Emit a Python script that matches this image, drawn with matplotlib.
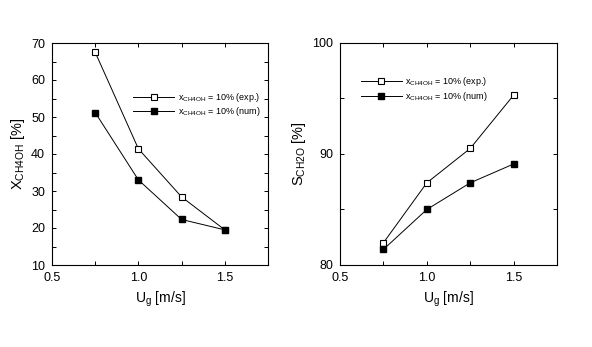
import matplotlib
matplotlib.use('Agg')
import matplotlib.pyplot as plt
from matplotlib.ticker import MultipleLocator

plt.rcParams['font.family'] = ['Liberation Sans', 'DejaVu Sans']
plt.rcParams['mathtext.default'] = 'regular'

# superficial gas velocity
u_g = [0.75, 1.0, 1.25, 1.5]

# methanol conversion
conv_exp = [67.5, 41.4, 28.4, 19.5]
conv_num = [51.2, 33.0, 22.3, 19.5]

# formaldehyde selectivity
sel_exp = [82.0, 87.4, 90.5, 95.3]
sel_num = [81.4, 85.0, 87.4, 89.1]

lab_exp = '$x_{CH4OH}$ = 10% (exp.)'
lab_num = '$x_{CH4OH}$ = 10% (num)'

fig = plt.figure(figsize=(5.92, 3.47), dpi=100)
ax1 = fig.add_axes([52/592, 1 - 265/347, 216/592, 222/347])
ax2 = fig.add_axes([340/592, 1 - 265/347, 217/592, 222/347])


def style(ax):
    ax.tick_params(which='both', direction='in', top=True, right=True, labelsize=9,
                   width=0.7, length=3.2)
    ax.tick_params(axis='x', pad=5)
    ax.tick_params(axis='y', pad=5)
    for s in ax.spines.values():
        s.set_linewidth(0.8)
    ax.set_xlim(0.5, 1.75)
    ax.xaxis.set_major_locator(MultipleLocator(0.5))
    ax.xaxis.set_major_formatter(plt.FormatStrFormatter('%.1f'))
    ax.xaxis.set_minor_locator(MultipleLocator(0.25))
    ax.set_xlabel('$U_g$ [m/s]', fontsize=10, labelpad=4)


# conversion
ax1.plot(u_g, conv_exp, color='black', lw=0.7, marker='s', ms=5,
         mfc='white', mec='black', mew=0.8, label=lab_exp)
ax1.plot(u_g, conv_num, color='black', lw=0.7, marker='s', ms=5,
         mfc='black', mec='black', label=lab_num)
style(ax1)
ax1.set_ylim(10, 70)
ax1.yaxis.set_major_locator(MultipleLocator(10))
ax1.yaxis.set_minor_locator(MultipleLocator(5))
ax1.set_ylabel('$X_{CH4OH}$ [%]', fontsize=10.5, labelpad=3)
ax1.legend(frameon=False, loc='upper left', bbox_to_anchor=(0.36, 0.8),
           fontsize=6.5, handlelength=4.5, handletextpad=0.4, labelspacing=0.15,
           borderaxespad=0)

# selectivity
ax2.plot(u_g, sel_exp, color='black', lw=0.7, marker='s', ms=5,
         mfc='white', mec='black', mew=0.8, label=lab_exp)
ax2.plot(u_g, sel_num, color='black', lw=0.7, marker='s', ms=5,
         mfc='black', mec='black', label=lab_num)
style(ax2)
ax2.set_ylim(80, 100)
ax2.yaxis.set_major_locator(MultipleLocator(10))
ax2.yaxis.set_minor_locator(MultipleLocator(5))
ax2.set_ylabel('$S_{CH2O}$ [%]', fontsize=10.5, labelpad=3)
ax2.legend(frameon=False, loc='upper left', bbox_to_anchor=(0.08, 0.87),
           fontsize=6.5, handlelength=4.5, handletextpad=0.4, labelspacing=0.15,
           borderaxespad=0)

fig.savefig('out.png', dpi=100)
